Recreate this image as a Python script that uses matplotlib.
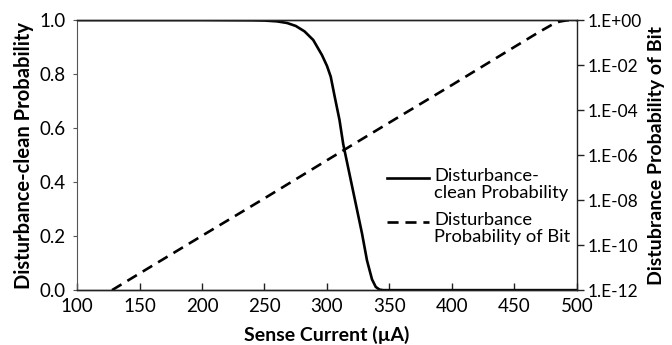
import matplotlib
matplotlib.use("Agg")
import matplotlib.pyplot as plt
from matplotlib.ticker import FixedLocator, NullLocator

plt.rcParams['font.family'] = ['Lato', 'DejaVu Sans']

# Disturbance-clean probability (left axis)
current_clean = [100, 200, 240, 250, 260, 268, 275, 282, 289, 296, 300, 303, 306, 310, 313,
                 318, 323, 328, 332, 336, 339, 342, 345, 400, 500]
clean_prob = [1.0, 1.0, 0.999, 0.998, 0.995, 0.989, 0.978, 0.958, 0.926, 0.87, 0.83, 0.79,
              0.72, 0.63, 0.54, 0.43, 0.32, 0.21, 0.11, 0.04, 0.012, 0.002, 0.0, 0.0, 0.0]

# Disturbance probability of bit (right log axis)
current_dist = [128, 150, 200, 250, 300, 350, 400, 450, 470, 480, 486, 492, 500]
dist_prob = [1e-12, 5.5e-12, 2.6e-10, 1.2e-8, 5.9e-7, 2.8e-5, 1.3e-3, 6.4e-2,
             0.3, 0.62, 0.85, 0.97, 1.0]

x_ticks = [100, 150, 200, 250, 300, 350, 400, 450, 500]
left_ticks = [0.0, 0.2, 0.4, 0.6, 0.8, 1.0]
right_ticks = [1e-12, 1e-10, 1e-8, 1e-6, 1e-4, 1e-2, 1e0]
right_labels = ["1.E-12", "1.E-10", "1.E-08", "1.E-06", "1.E-04", "1.E-02", "1.E+00"]

fig = plt.figure(figsize=(6.72, 3.45), dpi=100)
ax = fig.add_axes([0.1146, 0.159, 0.744, 0.783])
ax2 = ax.twinx()

ax.plot(current_clean, clean_prob, color='black', lw=1.9, solid_capstyle='butt')
ax2.plot(current_dist, dist_prob, color='black', lw=1.9, dashes=(4.2, 2.6))

ax.set_xlim(100, 500)
ax.set_ylim(0, 1)
ax2.set_yscale('log')
ax2.set_ylim(1e-12, 1)

ax.set_xticks(x_ticks)
ax.set_xticklabels([str(v) for v in x_ticks])
ax.set_yticks(left_ticks)
ax.set_yticklabels([f"{v:.1f}" for v in left_ticks])
ax2.yaxis.set_major_locator(FixedLocator(right_ticks))
ax2.yaxis.set_minor_locator(NullLocator())
ax2.set_yticklabels(right_labels)

for a in (ax, ax2):
    for s in ('top', 'bottom', 'right', 'left'):
        a.spines[s].set_linewidth(1.0)
        a.spines[s].set_color('#222222')
ax.spines['right'].set_visible(False)
ax2.spines['left'].set_visible(False)
ax.spines['left'].set_color('#555555')
ax.spines['left'].set_linewidth(0.8)

ax.tick_params(axis='x', direction='in', length=5, width=1, labelsize=13.5, pad=6, color='#222222')
ax.tick_params(axis='y', direction='out', length=3, width=0.8, labelsize=13.5, pad=5, color='#555555')
ax2.tick_params(axis='y', direction='out', length=5, width=1, labelsize=12.5, pad=3, color='#222222')

ax.set_xlabel("Sense Current (\u00b5A)", fontsize=14, fontweight='bold', labelpad=7.5)
ax.set_ylabel("Disturbance-clean Probability", fontsize=14.5, fontweight='bold', labelpad=4)
ax2.set_ylabel("Distubrance Probability of Bit", fontsize=14, fontweight='bold', labelpad=4)

# legend drawn manually (handles aligned with first text line)
tr = ax.transAxes
ax.plot([0.62, 0.705], [0.415, 0.415], color='black', lw=1.9, transform=tr, clip_on=False)
ax.text(0.714, 0.452, "Disturbance-\nclean Probability", transform=tr, fontsize=13.2,
        va='top', ha='left', linespacing=1.08)
ax.plot([0.62, 0.705], [0.252, 0.252], color='black', lw=1.9, dashes=(4.2, 2.6), transform=tr, clip_on=False)
ax.text(0.714, 0.289, "Disturbance\nProbability of Bit", transform=tr, fontsize=13.2,
        va='top', ha='left', linespacing=1.08)

fig.savefig("out.png", dpi=100)
